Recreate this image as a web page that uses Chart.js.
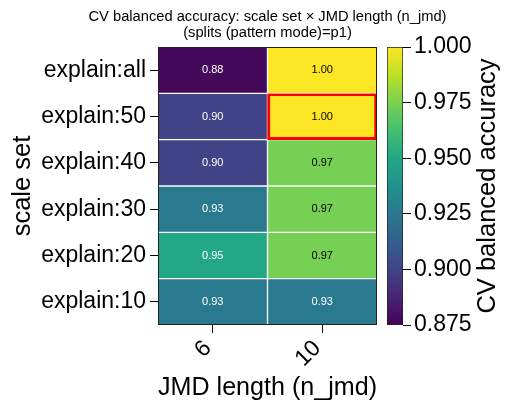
<!DOCTYPE html>
<html>
<head>
<meta charset="utf-8">
<script src="https://cdn.jsdelivr.net/npm/chart.js@4"></script>
<style>
  html, body { margin: 0; padding: 0; background: #fff; overflow: hidden; }
  #wrap { position: relative; width: 511px; height: 411px; }
  #heat { position: absolute; left: 0; top: 0; }
  #cbar { position: absolute; left: 380px; top: 0; }
</style>
</head>
<body>
<div id="wrap">
  <canvas id="heat" width="511" height="411"></canvas>
  <canvas id="cbar" width="131" height="411"></canvas>
</div>
<script>
// rows top -> bottom, columns = n_jmd
const rowLabels = ['explain:all', 'explain:50', 'explain:40', 'explain:30', 'explain:20', 'explain:10'];
const colLabels = ['6', '10'];
const jmd6 = [0.878, 0.900, 0.900, 0.926, 0.950, 0.926];
const jmd10 = [1.000, 1.000, 0.974, 0.974, 0.974, 0.926];
const bestRow = 1, bestCol = 1;
const vmin = 0.875, vmax = 1.0;
const cbTicks = [0.875, 0.900, 0.925, 0.950, 0.975, 1.000];

const titleLines = ['CV balanced accuracy: scale set \u00d7 JMD length (n_jmd)', '(splits (pattern mode)=p1)'];
const cbTitle = 'CV balanced accuracy';

const FONT = "'Liberation Sans', Arial, sans-serif";
Chart.defaults.font.family = FONT;
Chart.defaults.color = '#000';

// viridis colormap stops
const VIRIDIS = ['#440154', '#482475', '#414487', '#355f8d', '#2a788e', '#21918c',
                 '#22a884', '#44bf70', '#7ad151', '#bddf26', '#fde725'];

function hexRgb(h) {
  return [1, 3, 5].map(i => parseInt(h.slice(i, i + 2), 16));
}

function viridis(v) {
  let t = (v - vmin) / (vmax - vmin);
  t = Math.max(0, Math.min(1, t));
  const pos = t * (VIRIDIS.length - 1);
  const lo = Math.floor(pos), hi = Math.min(lo + 1, VIRIDIS.length - 1);
  const f = pos - lo;
  const a = hexRgb(VIRIDIS[lo]), b = hexRgb(VIRIDIS[hi]);
  const c = a.map((x, i) => Math.round(x + (b[i] - x) * f));
  return `rgb(${c[0]},${c[1]},${c[2]})`;
}

const datasets = rowLabels.map((lab, r) => {
  const vals = [jmd6[r], jmd10[r]];
  const isBest = c => r === bestRow && c === bestCol;
  return {
    label: lab,
    data: vals.map(() => [r, r + 1]),
    values: vals,
    backgroundColor: vals.map(viridis),
    borderColor: vals.map((v, c) => isBest(c) ? '#ff0000' : '#ffffff'),
    borderWidth: vals.map((v, c) => isBest(c) ? 3 : 1),
    borderSkipped: false,
    grouped: false,
    barPercentage: 1,
    categoryPercentage: 1
  };
});

const heatDecor = {
  id: 'heatDecor',
  afterDatasetsDraw(chart) {
    const ctx = chart.ctx;
    ctx.save();
    ctx.font = `11px ${FONT}`;
    ctx.textAlign = 'center';
    ctx.textBaseline = 'middle';
    chart.data.datasets.forEach((ds, i) => {
      chart.getDatasetMeta(i).data.forEach((bar, j) => {
        const v = ds.values[j];
        ctx.fillStyle = v >= 0.96 ? '#000' : '#fff';
        ctx.fillText(v.toFixed(2), bar.x, (bar.y + bar.base) / 2);
      });
    });
    ctx.restore();
  },
  afterDraw(chart) {
    const { ctx, chartArea: a } = chart;
    ctx.save();
    ctx.strokeStyle = '#222';
    ctx.lineWidth = 1;
    ctx.strokeRect(a.left + 0.5, a.top + 0.5, a.right - a.left - 1, a.bottom - a.top - 1);
    ctx.fillStyle = '#000';
    ctx.font = `14.7px ${FONT}`;
    ctx.textAlign = 'center';
    ctx.textBaseline = 'middle';
    const cx = (a.left + a.right) / 2;
    ctx.fillText(titleLines[0], cx, 17);
    ctx.fillText(titleLines[1], cx, 33);
    ctx.restore();
  }
};

new Chart(document.getElementById('heat'), {
  type: 'bar',
  data: { labels: colLabels, datasets },
  options: {
    responsive: false,
    animation: false,
    layout: { padding: { left: 8, right: 134, top: 47, bottom: 0 } },
    plugins: { legend: { display: false }, tooltip: { enabled: false } },
    scales: {
      x: {
        type: 'category',
        afterFit: s => { s.height = 86; },
        ticks: { font: { size: 23 }, minRotation: 45, maxRotation: 45, padding: 2, labelOffset: -5 },
        grid: { drawOnChartArea: false, offset: false, color: '#000', tickLength: 8 },
        border: { display: false },
        title: { display: true, text: 'JMD length (n_jmd)', font: { size: 25.5 }, padding: { top: 0, bottom: 8 } }
      },
      y: {
        type: 'linear',
        min: 0,
        max: rowLabels.length,
        reverse: true,
        afterBuildTicks: s => { s.ticks = rowLabels.map((_, i) => ({ value: i + 0.5 })); },
        afterFit: s => { s.width = 150; },
        ticks: { callback: v => rowLabels[Math.floor(v)], font: { size: 23 }, padding: 4, autoSkip: false },
        grid: { drawOnChartArea: false, color: '#000', tickLength: 8 },
        border: { display: false },
        title: { display: true, text: 'scale set', font: { size: 25.5 }, padding: 0 }
      }
    }
  },
  plugins: [heatDecor]
});

const cbLabel = {
  id: 'cbLabel',
  afterDraw(chart) {
    const { ctx, chartArea: a } = chart;
    ctx.save();
    ctx.translate(108, (a.top + a.bottom) / 2);
    ctx.rotate(-Math.PI / 2);
    ctx.font = `25.5px ${FONT}`;
    ctx.fillStyle = '#000';
    ctx.textAlign = 'center';
    ctx.textBaseline = 'middle';
    ctx.fillText(cbTitle, 0, 0);
    ctx.restore();
  }
};

new Chart(document.getElementById('cbar'), {
  type: 'bar',
  data: {
    labels: [''],
    datasets: [{
      data: [[vmin, vmax]],
      backgroundColor: ctx => {
        const a = ctx.chart.chartArea;
        if (!a) return '#888';
        const g = ctx.chart.ctx.createLinearGradient(0, a.bottom, 0, a.top);
        VIRIDIS.forEach((c, i) => g.addColorStop(i / (VIRIDIS.length - 1), c));
        return g;
      },
      borderColor: '#222',
      borderWidth: 1,
      borderSkipped: false,
      barPercentage: 1,
      categoryPercentage: 1
    }]
  },
  options: {
    responsive: false,
    animation: false,
    layout: { padding: { left: 7, right: 38, top: 47, bottom: 86 } },
    plugins: { legend: { display: false }, tooltip: { enabled: false } },
    scales: {
      x: { display: false },
      y: {
        position: 'right',
        min: vmin,
        max: vmax,
        afterBuildTicks: s => { s.ticks = cbTicks.map(v => ({ value: v })); },
        afterFit: s => { s.width = 70; },
        ticks: { callback: v => v.toFixed(3), font: { size: 23 }, padding: 3 },
        grid: { drawOnChartArea: false, color: '#000', tickLength: 8 },
        border: { display: false }
      }
    }
  },
  plugins: [cbLabel]
});
</script>
</body>
</html>
